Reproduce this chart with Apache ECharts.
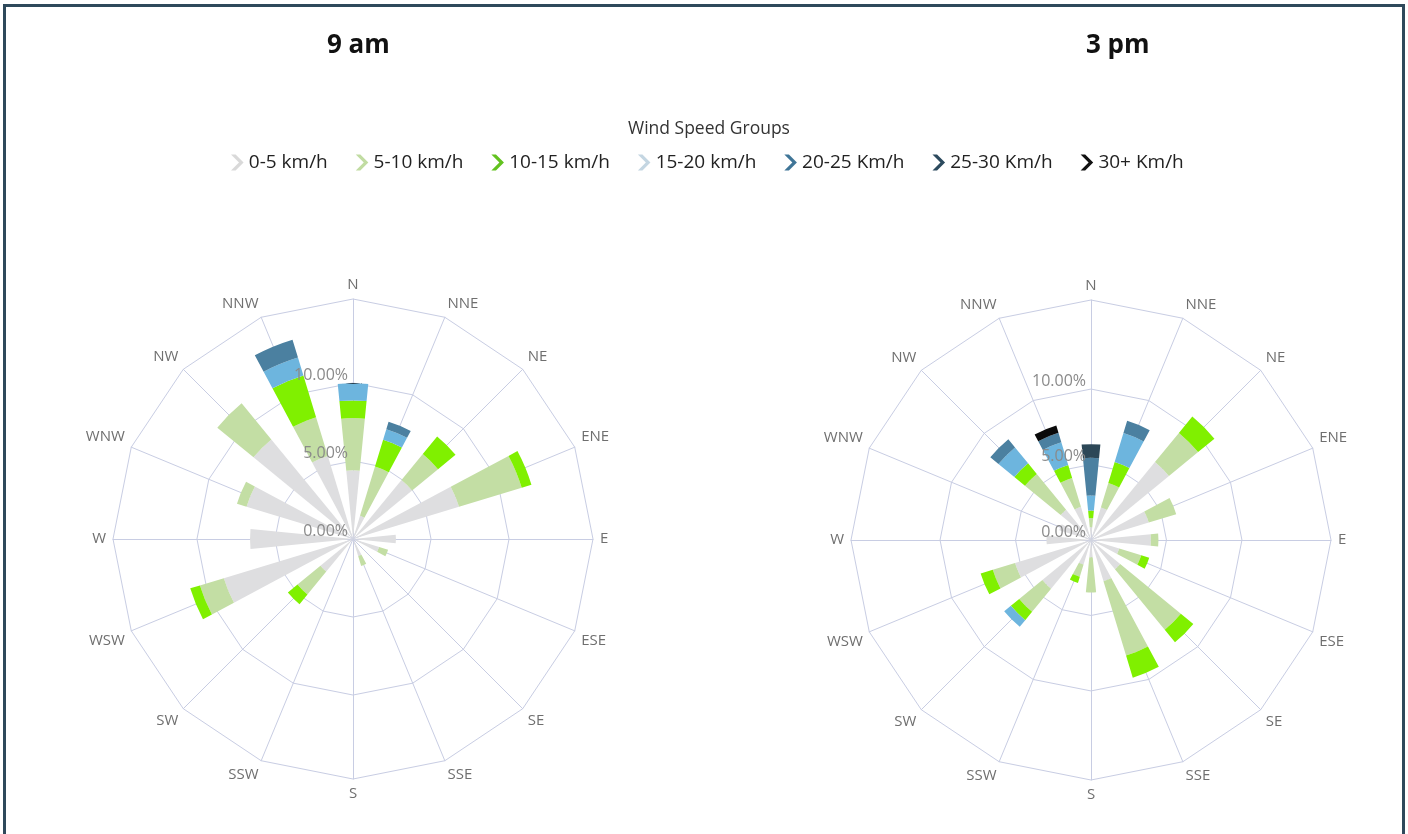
<!DOCTYPE html>
<html>
<head>
<meta charset="utf-8">
<title>Wind rose 9 am / 3 pm</title>
<script src="https://cdn.jsdelivr.net/npm/echarts@6/dist/echarts.min.js"></script>
<style>
  html, body { margin: 0; padding: 0; background: #fff; overflow: hidden; }
  #main { position: absolute; left: 0; top: 0; width: 1408px; height: 834px; }
  #frame {
    position: absolute; left: 3px; top: 4px; width: 1396px; height: 850px;
    border: 3px solid #2f495b; pointer-events: none;
  }
</style>
</head>
<body>
<div id="main"></div>
<div id="frame"></div>
<script>
// directions, clockwise from north
const directions = ['N', 'NNE', 'NE', 'ENE', 'E', 'ESE', 'SE', 'SSE', 'S', 'SSW', 'SW', 'WSW', 'W', 'WNW', 'NW', 'NNW'];
const speedGroups = ['0-5 km/h', '5-10 km/h', '10-15 km/h', '15-20 km/h', '20-25 Km/h', '25-30 Km/h', '30+ Km/h'];
const radiusTicks = [0, 5, 10];

// 9 am, % of observations per direction
const am_0_5   = [4.4, 1.55, 4.9, 7.1, 2.75, 1.75, 0, 1.15, 0, 0, 2.7, 8.65, 6.6, 7.13, 8.25, 5.55];
const am_5_10  = [3.35, 3.3, 2.15, 4.2, 0, 0.6, 0, 0.65, 0, 0, 1.9, 1.6, 0, 0.64, 3.0, 2.6];
const am_10_15 = [1.13, 1.8, 1.45, 0.65, 0, 0, 0, 0, 0, 0, 0.8, 0.65, 0, 0, 0, 2.8];
const am_15_20 = [1.1, 0.7, 0, 0, 0, 0, 0, 0, 0, 0, 0, 0, 0, 0, 0, 1.2];
const am_20_25 = [0, 0.5, 0, 0, 0, 0, 0, 0, 0, 0, 0, 0, 0, 0, 0, 1.2];
const am_25_30 = [0, 0, 0, 0, 0, 0, 0, 0, 0, 0, 0, 0, 0, 0, 0, 0];
const am_30    = [0, 0, 0, 0, 0, 0, 0, 0, 0, 0, 0, 0, 0, 0, 0, 0];

// 3 pm
const pm_0_5   = [0.85, 2.25, 6.68, 4.0, 3.97, 1.96, 2.5, 2.85, 1.15, 1.7, 4.17, 5.26, 2.95, 2.2, 2.6, 2.3];
const pm_5_10  = [0.6, 1.7, 2.5, 1.9, 0.5, 1.52, 5.2, 5.15, 2.32, 0.85, 1.98, 1.54, 0, 0, 3.06, 2.0];
const pm_10_15 = [0.5, 1.45, 1.4, 0, 0, 0.55, 1.07, 1.53, 0, 0.42, 0.72, 0.84, 0, 0, 0.91, 0.9];
const pm_15_20 = [1.0, 2.0, 0, 0, 0, 0, 0, 0, 0, 0, 0.57, 0, 0, 0, 1.36, 1.57];
const pm_20_25 = [2.5, 0.85, 0, 0, 0, 0, 0, 0, 0, 0, 0, 0, 0, 0, 0.7, 0.65];
const pm_25_30 = [0.9, 0, 0, 0, 0, 0, 0, 0, 0, 0, 0, 0, 0, 0, 0, 0];
const pm_30    = [0, 0, 0, 0, 0, 0, 0, 0, 0, 0, 0, 0, 0, 0, 0, 0.5];

const barColors = ['#dedee0', '#c3dea4', '#80f000', '#6db5de', '#4b80a0', '#2c4757', '#0a0a0a'];
const legendColors = ['#d9d9d9', '#c1dca2', '#62c21f', '#c4d6e2', '#3f7597', '#2c4a5e', '#111111'];

const amData = [am_0_5, am_5_10, am_10_15, am_15_20, am_20_25, am_25_30, am_30];
const pmData = [pm_0_5, pm_5_10, pm_10_15, pm_15_20, pm_20_25, pm_25_30, pm_30];

const FONT = '"Open Sans", "Noto Sans", sans-serif';
const gridColor = '#c8cde3';
const R = 240;
const amMax = 15.38;   // outer ring value
const pmMax = 15.9;
const cAm = [353, 539];
const cPm = [1091, 540];

const chart = echarts.init(document.getElementById('main'));

function dirAxis(idx) {
  return {
    polarIndex: idx, type: 'category', data: directions,
    startAngle: 90 + 360 / 32, boundaryGap: true,
    axisLine: { show: false }, axisTick: { show: false }, splitLine: { show: false },
    axisLabel: { color: '#6f6f6f', fontSize: 15, fontFamily: FONT, margin: 7 }
  };
}
function labelRadius(idx, max) {
  return {
    polarIndex: idx, min: 0, max: max, interval: 5, z: 10,
    axisLine: { show: false }, axisTick: { show: false }, splitLine: { show: false },
    axisLabel: {
      color: '#8a8a8a', fontSize: 16, fontFamily: FONT, margin: 5, verticalAlign: 'bottom',
      formatter: function (v) { return radiusTicks.indexOf(v) >= 0 ? v.toFixed(2) + '%' : ''; }
    }
  };
}
function radarGrid(center, radius, split, showSpokes) {
  return {
    center: center, radius: radius, startAngle: 90, splitNumber: split, shape: 'polygon',
    indicator: directions.map(function (d) { return { name: d, max: 1 }; }),
    axisName: { show: false },
    axisLine: { show: showSpokes, lineStyle: { color: gridColor, width: 1 } },
    splitLine: { lineStyle: { color: gridColor, width: 1 } },
    splitArea: { show: false },
    axisTick: { show: false }, axisLabel: { show: false }
  };
}

const series = [];
speedGroups.forEach(function (name, i) {
  series.push({
    name: name, type: 'bar', coordinateSystem: 'polar', polarIndex: 0,
    stack: 'am', data: amData[i], barCategoryGap: '50%', z: 3,
    itemStyle: { color: barColors[i] }, emphasis: { disabled: true }
  });
  series.push({
    name: name, type: 'bar', coordinateSystem: 'polar', polarIndex: 1,
    stack: 'pm', data: pmData[i], barCategoryGap: '50%', z: 3,
    itemStyle: { color: barColors[i] }, emphasis: { disabled: true }
  });
});

const option = {
  animation: false,
  backgroundColor: '#fff',
  title: [
    { text: '9 am', left: 327, top: 33, padding: 0,
      textStyle: { fontSize: 26, fontWeight: 'bold', color: '#111', fontFamily: FONT } },
    { text: '3 pm', left: 1086, top: 33, padding: 0,
      textStyle: { fontSize: 26, fontWeight: 'bold', color: '#111', fontFamily: FONT } },
    { text: 'Wind Speed Groups', left: 628, top: 120, padding: 0,
      textStyle: { fontSize: 17.5, fontWeight: 'normal', color: '#333', fontFamily: FONT } }
  ],
  legend: {
    top: 153, left: 231, padding: 0, itemGap: 28, itemWidth: 13, itemHeight: 16,
    icon: 'path://M0,0 L4,0 L11,7 L4,14 L0,14 L7,7 Z',
    textStyle: { fontSize: 19, color: '#222', fontFamily: FONT },
    data: speedGroups.map(function (n, i) {
      return { name: n, itemStyle: { color: legendColors[i] } };
    }),
    selectedMode: false
  },
  radar: [
    radarGrid(cAm, R, 1, true),
    radarGrid(cAm, R * 10 / amMax, 2, false),
    radarGrid(cPm, R, 1, true),
    radarGrid(cPm, R * 10 / pmMax, 2, false)
  ],
  polar: [
    { center: cAm, radius: R },
    { center: cPm, radius: R },
    { center: cAm, radius: R },
    { center: cPm, radius: R }
  ],
  angleAxis: [
    dirAxis(0),
    dirAxis(1),
    { polarIndex: 2, type: 'value', min: 0, max: 360, startAngle: 90, show: false },
    { polarIndex: 3, type: 'value', min: 0, max: 360, startAngle: 90, show: false }
  ],
  radiusAxis: [
    { polarIndex: 0, min: 0, max: amMax, show: false },
    { polarIndex: 1, min: 0, max: pmMax, show: false },
    labelRadius(2, amMax),
    labelRadius(3, pmMax)
  ],
  series: series
};

chart.setOption(option);
</script>
</body>
</html>
